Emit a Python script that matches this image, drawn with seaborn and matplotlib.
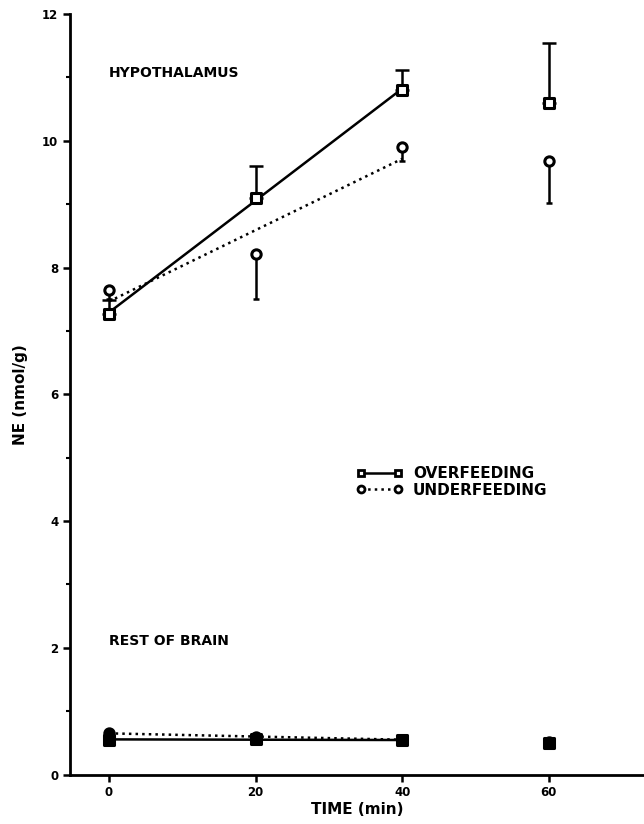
import numpy as np
import pandas as pd
import matplotlib
matplotlib.use("Agg")
import matplotlib.pyplot as plt
import seaborn as sns
from matplotlib.lines import Line2D

# time points (min)
time = [0, 20, 40, 60]

# hypothalamus NE (nmol/g)
hyp_over = [7.27, 9.10, 10.80, 10.60]
hyp_over_err = [0.22, 0.50, 0.32, 0.95]
hyp_under = [7.65, 8.22, 9.90, 9.68]
hyp_under_err = [0.15, 0.72, 0.22, 0.66]

# rest of brain NE (nmol/g)
rob_over = [0.55, 0.56, 0.54, 0.50]
rob_under = [0.65, 0.60, 0.55, 0.52]

sns.set_style("ticks")
plt.rcParams['font.family'] = ['DejaVu Sans']
plt.rcParams['font.weight'] = 'bold'
for key in ["text.color", "axes.labelcolor", "xtick.color", "ytick.color",
            "axes.edgecolor"]:
    plt.rcParams[key] = "black"

fig = plt.figure(figsize=(6.44, 8.24), dpi=100)
ax = fig.add_axes([0.109, 0.06, 0.891, 0.923])

# regression lines through 0-40 min
fit_df = pd.DataFrame({"t": time[:3], "ho": hyp_over[:3], "hu": hyp_under[:3],
                       "ro": rob_over[:3], "ru": rob_under[:3]})
for col, ls in [("ho", "-"), ("hu", ":"), ("ro", "-"), ("ru", ":")]:
    sns.regplot(data=fit_df, x="t", y=col, ax=ax, scatter=False, ci=None,
                truncate=True, color="black",
                line_kws={"linestyle": ls, "linewidth": 1.8})

# error bars: overfeeding up, underfeeding down
ax.errorbar(time, hyp_over, yerr=[np.zeros(4), hyp_over_err], fmt="none",
            ecolor="black", elinewidth=1.8, capsize=5, capthick=1.8)
ax.errorbar(time, hyp_under, yerr=[hyp_under_err, np.zeros(4)], fmt="none",
            ecolor="black", elinewidth=1.8, capsize=2, capthick=1.8)

# markers
mk = dict(color="black", edgecolor="black", linewidth=2.2, s=45, zorder=5)
sns.scatterplot(x=time, y=hyp_over, marker="s", ax=ax, facecolor="white", **mk)
sns.scatterplot(x=time, y=hyp_under, marker="o", ax=ax, facecolor="white", **mk)
sns.scatterplot(x=time, y=rob_over, marker="s", ax=ax, facecolor="black", **mk)
sns.scatterplot(x=time, y=rob_under, marker="o", ax=ax, facecolor="black", **mk)

ax.set_xlim(-5.3, 73)
ax.set_ylim(0, 12)
ax.set_xticks([0, 20, 40, 60])
ax.set_yticks([0, 2, 4, 6, 8, 10, 12])
ax.set_yticks([1, 3, 5, 7, 9, 11], minor=True)
ax.tick_params(axis="both", which="major", direction="out", length=5, width=1.8,
               labelsize=8.5)
ax.tick_params(axis="y", which="minor", direction="out", length=3, width=1.5)
for lab in ax.get_xticklabels() + ax.get_yticklabels():
    lab.set_fontweight("bold")
for side in ["top", "right"]:
    ax.spines[side].set_visible(False)
for side in ["left", "bottom"]:
    ax.spines[side].set_linewidth(2)

ax.set_xlabel("TIME (min)", fontsize=11, fontweight="bold", labelpad=2)
ax.set_ylabel("NE (nmol/g)", fontsize=11, fontweight="bold", labelpad=10)

ax.text(0, 11.07, "HYPOTHALAMUS", fontsize=10, fontweight="bold", va="center")
ax.text(0, 2.1, "REST OF BRAIN", fontsize=10, fontweight="bold", va="center")

handles = [
    Line2D([], [], color="black", linestyle="-", linewidth=1.8, marker="s",
           markersize=5, markerfacecolor="white", markeredgewidth=2),
    Line2D([], [], color="black", linestyle=":", linewidth=1.8, marker="o",
           markersize=5, markerfacecolor="white", markeredgewidth=2),
]
ax.legend(handles, ["OVERFEEDING", "UNDERFEEDING"], loc="center left",
          bbox_to_anchor=(0.475, 0.385), frameon=False, numpoints=2,
          handlelength=3, handletextpad=0.7, labelspacing=0.1,
          prop={"weight": "bold", "size": 11})

fig.savefig("out.png", dpi=100)
